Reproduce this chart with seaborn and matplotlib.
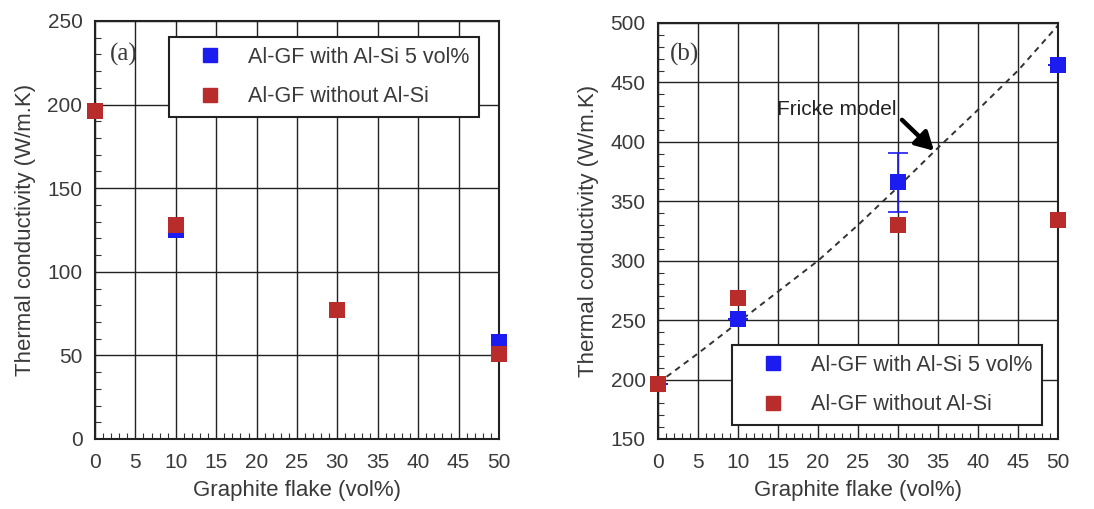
import numpy as np
import pandas as pd
import matplotlib
matplotlib.use("Agg")
import matplotlib.pyplot as plt
import seaborn as sns
from matplotlib.ticker import MultipleLocator
from matplotlib.lines import Line2D

# ---- data ----
gf_vol = [0, 10, 30, 50]
# panel (a)
a_with_alsi = [196, 125, 77, 58]
a_without_alsi = [196, 128, 77, 51]
# panel (b)
b_with_alsi = [196, 251, 366, 465]
b_with_alsi_err = [0, 0, 25, 0]
b_without_alsi = [196, 269, 330, 334]
# Fricke model curve (panel b)
fricke_x = [0, 5, 10, 15, 20, 25, 30, 35, 40, 45, 50]
fricke_y = [197, 222, 248, 274, 300, 330, 362, 395, 427, 460, 498]

x_ticks = [0, 5, 10, 15, 20, 25, 30, 35, 40, 45, 50]
label_with = "Al-GF with Al-Si 5 vol%"
label_without = "Al-GF without Al-Si"
xlabel = "Graphite flake (vol%)"
ylabel = "Thermal conductivity (W/m.K)"

BLUE = "#1c1cf0"
RED = "#b82c2c"

sns.set_theme(style="white")
plt.rcParams['font.family'] = ['Liberation Sans', 'DejaVu Sans']

fig = plt.figure(figsize=(10.94, 5.09), dpi=100)
axA = fig.add_axes([95/1094, 1-439/509, 404/1094, 418/509])
axB = fig.add_axes([658/1094, 1-439/509, 400/1094, 416/509])

MS = 135
TXT = '#3a3a3a'

def style_axes(ax, ylim, ymajor):
    ax.set_xlim(0, 50)
    ax.set_ylim(*ylim)
    ax.set_xticks(x_ticks)
    ax.xaxis.set_minor_locator(MultipleLocator(1))
    ax.yaxis.set_major_locator(MultipleLocator(ymajor))
    ax.yaxis.set_minor_locator(MultipleLocator(10))
    ax.grid(True, which='major', color='#222222', linewidth=1.0)
    ax.tick_params(axis='both', which='both', direction='in', labelsize=15,
                   colors='#333333', labelcolor=TXT, bottom=True, left=True,
                   top=False, right=False)
    ax.tick_params(axis='x', which='major', length=0, pad=10)
    ax.tick_params(axis='y', which='major', length=0, pad=9)
    ax.tick_params(which='minor', length=4, width=0.8)
    for s in ax.spines.values():
        s.set_color('#222222')
        s.set_linewidth(1.5)
        s.set_visible(True)
    ax.set_xlabel(xlabel, fontsize=16, color=TXT, labelpad=6)
    ax.set_ylabel(ylabel, fontsize=16, color=TXT, labelpad=8)
    ax.set_axisbelow(True)

def legend(ax, anchor):
    handles = [Line2D([], [], linestyle='none', marker='s', markersize=10.5,
                      markerfacecolor=BLUE, markeredgecolor=BLUE),
               Line2D([], [], linestyle='none', marker='s', markersize=10.5,
                      markerfacecolor=RED, markeredgecolor=RED)]
    leg = ax.legend(handles, [label_with, label_without], loc='upper left',
                    bbox_to_anchor=anchor, bbox_transform=fig.transFigure,
                    fontsize=15.5, frameon=True, fancybox=False,
                    handletextpad=0.25, labelspacing=0.86, borderpad=0.45,
                    borderaxespad=0, handlelength=2.95)
    fr = leg.get_frame()
    fr.set_edgecolor('#222222')
    fr.set_linewidth(1.5)
    fr.set_alpha(1)
    for t in leg.get_texts():
        t.set_color(TXT)

# ---- panel (a) ----
sns.scatterplot(x=gf_vol, y=a_with_alsi, ax=axA, marker='s', s=MS, color=BLUE,
                edgecolor=BLUE, linewidth=0, zorder=3, clip_on=False)
sns.scatterplot(x=gf_vol, y=a_without_alsi, ax=axA, marker='s', s=MS, color=RED,
                edgecolor=RED, linewidth=0, zorder=4, clip_on=False)
style_axes(axA, (0, 250), 50)
axA.text(0.037, 0.92, "(a)", transform=axA.transAxes, fontsize=18,
         family='Liberation Serif', color=TXT, va='center')
legend(axA, (169/1094, 1-37/509))

# ---- panel (b) ----
sns.lineplot(x=fricke_x, y=fricke_y, ax=axB, color='#333333', linestyle=(0, (3, 2.5)),
             linewidth=1.4, zorder=2)
axB.errorbar(gf_vol, b_with_alsi, yerr=b_with_alsi_err, fmt='none', ecolor=BLUE,
             elinewidth=1.2, capsize=7, capthick=1.2, zorder=3)
sns.scatterplot(x=gf_vol, y=b_with_alsi, ax=axB, marker='s', s=MS, color=BLUE,
                edgecolor=BLUE, linewidth=0, zorder=3, clip_on=False)
sns.scatterplot(x=gf_vol, y=b_without_alsi, ax=axB, marker='s', s=MS, color=RED,
                edgecolor=RED, linewidth=0, zorder=4, clip_on=False)
style_axes(axB, (150, 500), 50)
axB.text(0.03, 0.925, "(b)", transform=axB.transAxes, fontsize=18,
         family='Liberation Serif', color=TXT, va='center')
axB.text(14.9, 427, "Fricke model", fontsize=15, color='#222222',
         va='center', ha='left')
axB.annotate("", xy=(34.5, 392.5), xytext=(30.5, 418.5),
             arrowprops=dict(arrowstyle='-|>,head_length=0.9,head_width=0.5',
                             color='black', lw=3.2, mutation_scale=12,
                             shrinkA=0, shrinkB=0))
legend(axB, (732/1094, 1-345/509))

fig.savefig("out.png", dpi=100)
